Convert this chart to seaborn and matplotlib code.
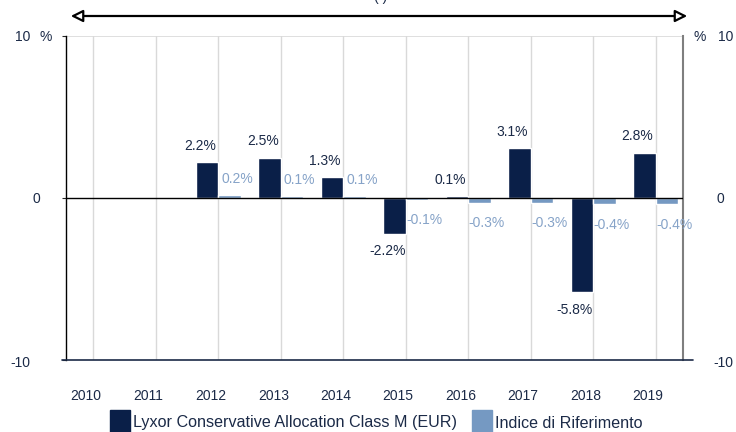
import matplotlib
matplotlib.use("Agg")
import matplotlib.pyplot as plt
import seaborn as sns
import pandas as pd
import numpy as np
from matplotlib.patches import FancyArrowPatch, Rectangle

sns.set_style("white")
plt.rcParams['font.family'] = ['Liberation Sans', 'DejaVu Sans']

years = ["2010", "2011", "2012", "2013", "2014", "2015", "2016", "2017", "2018", "2019"]
fund = [np.nan, np.nan, 2.2, 2.5, 1.3, -2.2, 0.1, 3.1, -5.8, 2.8]
index = [np.nan, np.nan, 0.2, 0.1, 0.1, -0.1, -0.3, -0.3, -0.4, -0.4]
fund_name = "Lyxor Conservative Allocation Class M (EUR)"
index_name = "Indice di Riferimento"
yticks = [-10, 0, 10]

dark = "#0a1f48"
light = "#7599c2"
label_dark = "#1b2a47"
label_light = "#86a3c8"
txt = "#1b2a47"

df = pd.DataFrame({
    "year": years * 2,
    "value": fund + index,
    "series": [fund_name] * len(years) + [index_name] * len(years),
})

W, H = 736, 432
fig = plt.figure(figsize=(7.36, 4.32), dpi=100)
ax = fig.add_axes([66 / W, 1 - 360 / H, (683 - 66) / W, (360 - 36) / H])

sns.barplot(data=df, x="year", y="value", hue="series", order=years,
            hue_order=[fund_name, index_name], palette=[dark, light],
            width=0.72, saturation=1, ax=ax, legend=False, zorder=3)

ax.set_xlim(-0.44, 9.44)
ax.set_ylim(-10, 10)

for i in range(len(years)):
    ax.axvline(i, color="#d9d9d9", lw=1, zorder=0)
ax.axhline(10, color="#d9d9d9", lw=1.2, zorder=0)
ax.axhline(0, color="black", lw=1, zorder=4)
ax.plot([-0.5, 9.6], [-10, -10], color=txt, lw=1.2, clip_on=False, zorder=4)

for s in ["top", "bottom"]:
    ax.spines[s].set_visible(False)
ax.spines["left"].set_color("black")
ax.spines["left"].set_linewidth(1)
ax.spines["right"].set_color("#7f7f7f")
ax.spines["right"].set_linewidth(1.5)

ax.set_yticks(yticks)
ax.set_yticklabels([])
ax.tick_params(axis="y", length=3, left=True)
ax.set_xticks([i - 0.12 for i in range(len(years))])
ax.set_xticklabels(years, fontsize=10, color=txt)
ax.tick_params(axis="x", length=0, pad=21)
ax.set_xlabel("")
ax.set_ylabel("")

# y labels (left and right), placed in pixels
fs = 10
def ftext(x, y, s, ha):
    fig.text(x / W, 1 - y / H, s, ha=ha, va="center", fontsize=fs, color=txt)

ftext(30, 37, "10", "right"); ftext(52, 37, "%", "right")
ftext(40, 199, "0", "right")
ftext(30, 363, "-10", "right")
ftext(693, 37, "%", "left"); ftext(733, 37, "10", "right")
ftext(724, 199, "0", "right")
ftext(733, 363, "-10", "right")

# data labels
for i, v in enumerate(fund):
    if np.isnan(v):
        continue
    y = v + (1.0 if v >= 0 else -1.1)
    ax.text(i - 0.29, y, f"{v:.1f}%", ha="center", va="center",
            fontsize=10, color=label_dark, zorder=5)
for i, v in enumerate(index):
    if np.isnan(v):
        continue
    y = v + (1.0 if v >= 0 else -1.25)
    ax.text(i + 0.3, y, f"{v:.1f}%", ha="center", va="center",
            fontsize=10, color=label_light, zorder=5)

# top double arrow
arrow = FancyArrowPatch((68 / W, 1 - 16 / H), (690 / W, 1 - 16 / H),
                        transform=fig.transFigure, arrowstyle="<|-|>",
                        mutation_scale=18, lw=1.6, edgecolor="black",
                        facecolor="white")
fig.patches.append(arrow)
fig.text(381 / W, 1 + 3 / H, "( )", ha="center", va="center",
         fontsize=10, color=txt)

# legend
fig.patches.append(Rectangle((110 / W, 0), 20 / W, 22 / H,
                             transform=fig.transFigure, color=dark))
fig.text(133 / W, 9 / H, fund_name, ha="left", va="center",
         fontsize=11.6, color=txt)
fig.patches.append(Rectangle((472 / W, 0), 20 / W, 22 / H,
                             transform=fig.transFigure, color=light))
fig.text(495 / W, 9 / H, index_name, ha="left", va="center",
         fontsize=11.6, color=txt)

fig.savefig("out.png", dpi=100)
